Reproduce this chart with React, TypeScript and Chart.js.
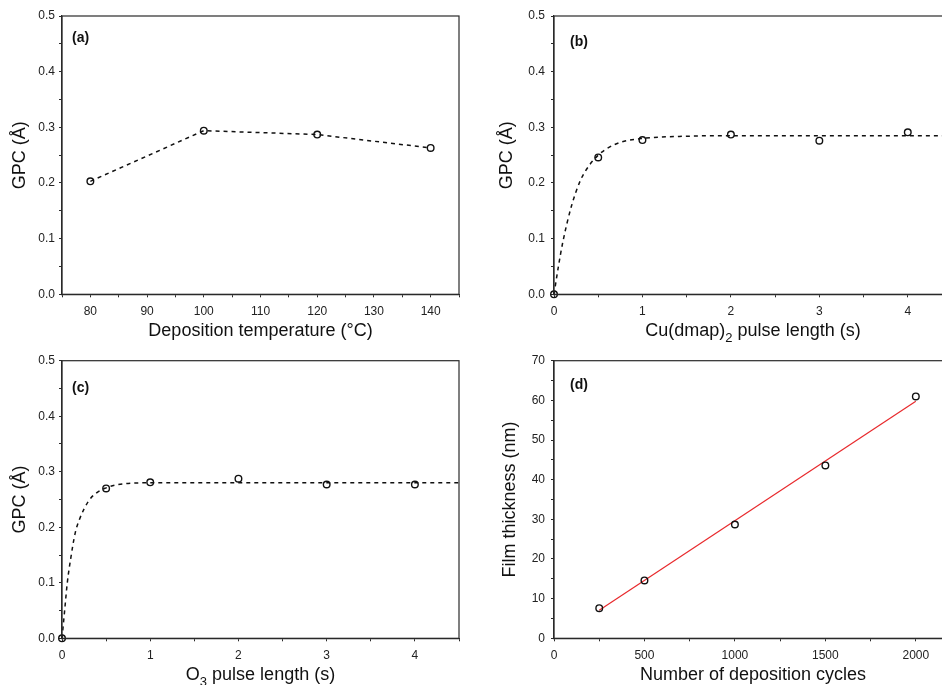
import React, { useEffect, useRef } from "react";
import { Chart, registerables } from "chart.js";

Chart.register(...registerables);

const FONT = '"Liberation Sans", Arial, Helvetica, sans-serif';
const INK = "#111";
const AXIS = "#2a2a2a";

// (a) growth per cycle vs. deposition temperature
const tempC = [80, 100, 120, 140];
const gpcTemp = [0.203, 0.294, 0.287, 0.263];
const tempMajor = [80, 90, 100, 110, 120, 130, 140];

// (b) Cu(dmap)2 pulse-length saturation
const cuPulse = [0, 0.5, 1, 2, 3, 4];
const gpcCu = [0, 0.246, 0.277, 0.287, 0.276, 0.291];
const cuFitX = [0, 0.05, 0.1, 0.2, 0.3, 0.4, 0.5, 0.6, 0.75, 1, 1.5, 2, 4.5];
const cuFitY = [0, 0.05, 0.094, 0.16, 0.205, 0.232, 0.25, 0.262, 0.273, 0.28, 0.284, 0.285, 0.285];

// (c) O3 pulse-length saturation
const o3Pulse = [0, 0.5, 1, 2, 3, 4];
const gpcO3 = [0, 0.27, 0.281, 0.2875, 0.277, 0.277];
const o3FitX = [0, 0.03, 0.06, 0.1, 0.15, 0.2, 0.3, 0.4, 0.5, 0.6, 0.75, 1, 4.5];
const o3FitY = [0, 0.05, 0.1, 0.145, 0.19, 0.215, 0.247, 0.263, 0.271, 0.276, 0.279, 0.28, 0.28];

const pulseMajor = [0, 1, 2, 3, 4];
const gpcMajor = [0, 0.1, 0.2, 0.3, 0.4, 0.5];

// (d) film thickness vs. number of cycles
const cycles = [250, 500, 1000, 1500, 2000];
const thicknessNm = [7.6, 14.6, 28.7, 43.6, 61.0];
const linFitX = [250, 2000];
const linFitY = [7.06, 59.8];
const cycleMajor = [0, 500, 1000, 1500, 2000];
const thickMajor = [0, 10, 20, 30, 40, 50, 60, 70];

type Seg = { t: string; sub?: boolean };

const pts = (xs: number[], ys: number[]) => xs.map((x, i) => ({ x, y: ys[i] }));

const markers = (xs: number[], ys: number[]) => ({
  data: pts(xs, ys),
  showLine: false,
  pointRadius: 3.3,
  pointBorderWidth: 1.4,
  pointBorderColor: INK,
  pointBackgroundColor: "rgba(0,0,0,0)",
  clip: false,
});

const dashed = (xs: number[], ys: number[]) => ({
  data: pts(xs, ys),
  showLine: true,
  pointRadius: 0,
  borderColor: INK,
  borderWidth: 1.5,
  borderDash: [4, 4],
  cubicInterpolationMode: "monotone",
  clip: false,
});

function stepValues(min: number, max: number, step: number) {
  const out: number[] = [];
  const n = Math.round((max - min) / step);
  for (let i = 0; i <= n; i++) {
    const v = +(min + i * step).toFixed(6);
    if (v <= max + 1e-9) out.push(v);
  }
  return out;
}

type AxisSpec = { min: number; max: number; step: number; major: number[]; fmt: (v: number) => string };

type PanelSpec = {
  left: number;
  top: number;
  width: number;
  height: number;
  area: { left: number; top: number; right: number; bottom: number };
  x: AxisSpec;
  y: AxisSpec;
  yPad: number;
  xTitle: Seg[];
  yTitle: Seg[];
  yTitleGap: number;
  tag: string;
  tagDx: number;
  tagDy: number;
  datasets: any[];
};

const TITLE_SIZE = 18;

function drawRich(ctx: CanvasRenderingContext2D, segs: Seg[], cx: number, y: number, size: number) {
  const fontOf = (s: Seg) => `${s.sub ? Math.round(size * 0.7) : size}px ${FONT}`;
  const widths = segs.map((s) => {
    ctx.font = fontOf(s);
    return ctx.measureText(s.t).width;
  });
  const total = widths.reduce((a, b) => a + b, 0);
  let x = cx - total / 2;
  segs.forEach((s, i) => {
    ctx.font = fontOf(s);
    ctx.fillText(s.t, x, y + (s.sub ? size * 0.3 : 0));
    x += widths[i];
  });
}

function PanelChart({ spec }: { spec: PanelSpec }) {
  const ref = useRef<HTMLCanvasElement | null>(null);

  useEffect(() => {
    if (!ref.current) return;
    const { area, width, height } = spec;

    const makeAxis = (a: AxisSpec, pos: "bottom" | "left") => ({
      type: "linear",
      position: pos,
      min: a.min,
      max: a.max,
      afterBuildTicks: (s: any) => {
        s.ticks = stepValues(a.min, a.max, a.step).map((value) => ({ value }));
      },
      afterFit: (s: any) => {
        if (pos === "left") s.width = area.left;
        else s.height = height - area.bottom;
      },
      ticks: {
        autoSkip: false,
        maxRotation: 0,
        minRotation: 0,
        padding: pos === "left" ? spec.yPad : 7,
        color: "#222",
        font: { family: FONT, size: 12 },
        callback: (v: number) => (a.major.some((m) => Math.abs(m - v) < 1e-6) ? a.fmt(v) : ""),
      },
      grid: {
        display: true,
        drawOnChartArea: false,
        drawTicks: true,
        tickLength: 3,
        color: AXIS,
        lineWidth: 1,
      },
      border: { display: true, color: AXIS, width: 1.2 },
      title: { display: false },
    });

    const decor = {
      id: "decor",
      afterDraw(chart: any) {
        const ctx: CanvasRenderingContext2D = chart.ctx;
        const ca = chart.chartArea;
        ctx.save();
        // plot frame
        ctx.strokeStyle = AXIS;
        ctx.lineWidth = 1.2;
        ctx.strokeRect(ca.left, ca.top, ca.right - ca.left, ca.bottom - ca.top);
        ctx.fillStyle = INK;
        // x-axis title
        ctx.textBaseline = "alphabetic";
        ctx.textAlign = "left";
        drawRich(ctx, spec.xTitle, (ca.left + ca.right) / 2, ca.bottom + 42, TITLE_SIZE);
        // y-axis title
        ctx.save();
        ctx.translate(ca.left - spec.yTitleGap, (ca.top + ca.bottom) / 2);
        ctx.rotate(-Math.PI / 2);
        ctx.textBaseline = "middle";
        drawRich(ctx, spec.yTitle, 0, 0, TITLE_SIZE);
        ctx.restore();
        // panel tag
        ctx.font = `bold 14px ${FONT}`;
        ctx.textBaseline = "middle";
        ctx.textAlign = "left";
        ctx.fillText(spec.tag, ca.left + spec.tagDx, ca.top + spec.tagDy);
        ctx.restore();
      },
    };

    const chart = new Chart(ref.current, {
      type: "scatter",
      data: { datasets: spec.datasets },
      options: {
        responsive: false,
        animation: false,
        events: [],
        layout: {
          padding: { left: 0, top: area.top, right: width - area.right, bottom: 0 },
        },
        plugins: { legend: { display: false }, tooltip: { enabled: false } },
        scales: {
          x: makeAxis(spec.x, "bottom"),
          y: makeAxis(spec.y, "left"),
        },
      } as any,
      plugins: [decor],
    });
    return () => chart.destroy();
  }, [spec]);

  return (
    <div
      style={{
        position: "absolute",
        left: spec.left,
        top: spec.top,
        width: spec.width,
        height: spec.height,
      }}
    >
      <canvas ref={ref} width={spec.width} height={spec.height} style={{ display: "block" }} />
    </div>
  );
}

const f1 = (v: number) => v.toFixed(1);
const f0 = (v: number) => String(Math.round(v));

const gpcAxis: AxisSpec = { min: 0, max: 0.5, step: 0.05, major: gpcMajor, fmt: f1 };
const pulseAxis: AxisSpec = { min: 0, max: 4.5, step: 0.5, major: pulseMajor, fmt: f0 };
const gpcTitle: Seg[] = [{ t: "GPC (Å)" }];

const panels: PanelSpec[] = [
  {
    left: 0,
    top: 0,
    width: 470,
    height: 342,
    area: { left: 62, top: 16, right: 459, bottom: 294.3 },
    x: { min: 75, max: 145, step: 5, major: tempMajor, fmt: f0 },
    y: gpcAxis,
    yPad: 4,
    xTitle: [{ t: "Deposition temperature (°C)" }],
    yTitle: gpcTitle,
    yTitleGap: 42,
    tag: "(a)",
    tagDx: 10,
    tagDy: 22,
    datasets: [markers(tempC, gpcTemp), { ...dashed(tempC, gpcTemp), cubicInterpolationMode: "default", tension: 0 }],
  },
  {
    left: 470,
    top: 0,
    width: 500,
    height: 342,
    area: { left: 84, top: 16, right: 482, bottom: 294.3 },
    x: pulseAxis,
    y: gpcAxis,
    yPad: 6,
    xTitle: [{ t: "Cu(dmap)" }, { t: "2", sub: true }, { t: " pulse length (s)" }],
    yTitle: gpcTitle,
    yTitleGap: 47,
    tag: "(b)",
    tagDx: 16,
    tagDy: 26.5,
    datasets: [markers(cuPulse, gpcCu), dashed(cuFitX, cuFitY)],
  },
  {
    left: 0,
    top: 342,
    width: 470,
    height: 343,
    area: { left: 62, top: 18.7, right: 459, bottom: 296.3 },
    x: pulseAxis,
    y: gpcAxis,
    yPad: 4,
    xTitle: [{ t: "O" }, { t: "3", sub: true }, { t: " pulse length (s)" }],
    yTitle: gpcTitle,
    yTitleGap: 42,
    tag: "(c)",
    tagDx: 10,
    tagDy: 27.5,
    datasets: [markers(o3Pulse, gpcO3), dashed(o3FitX, o3FitY)],
  },
  {
    left: 470,
    top: 342,
    width: 500,
    height: 343,
    area: { left: 84, top: 18.7, right: 482, bottom: 296.3 },
    x: { min: 0, max: 2200, step: 250, major: cycleMajor, fmt: f0 },
    y: { min: 0, max: 70, step: 5, major: thickMajor, fmt: f0 },
    yPad: 6,
    xTitle: [{ t: "Number of deposition cycles" }],
    yTitle: [{ t: "Film thickness (nm)" }],
    yTitleGap: 44,
    tag: "(d)",
    tagDx: 16,
    tagDy: 24.3,
    datasets: [
      markers(cycles, thicknessNm),
      {
        data: pts(linFitX, linFitY),
        showLine: true,
        pointRadius: 0,
        borderColor: "#e8292c",
        borderWidth: 1.2,
        clip: false,
      },
    ],
  },
];

export default function App() {
  return (
    <div
      style={{
        position: "absolute",
        left: 0,
        top: 0,
        width: 942,
        height: 685,
        overflow: "hidden",
        background: "#fff",
      }}
    >
      {panels.map((p, i) => (
        <PanelChart key={i} spec={p} />
      ))}
    </div>
  );
}
